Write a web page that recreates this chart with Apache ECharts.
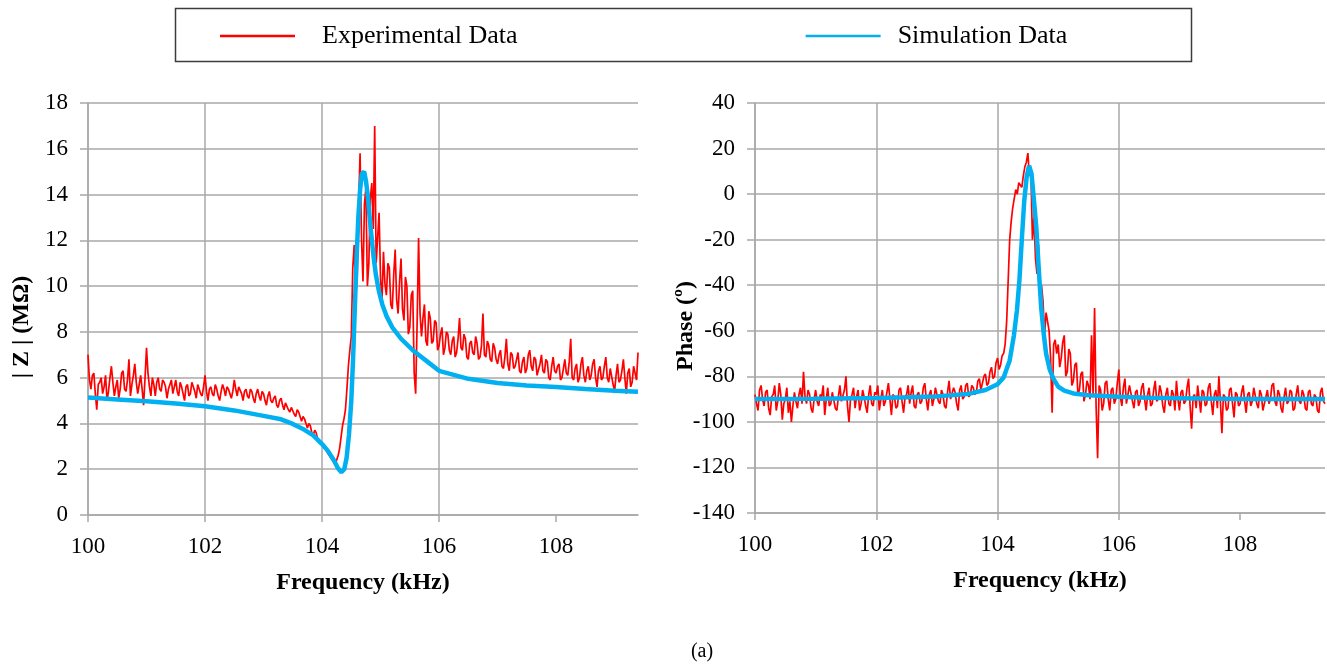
<!DOCTYPE html>
<html><head><meta charset="utf-8">
<script src="https://cdn.jsdelivr.net/npm/echarts@6/dist/echarts.min.js"></script>
<style>html,body{margin:0;padding:0;background:#fff}#c{width:1327px;height:666px}</style>
</head><body><div id="c"></div>
<script>
// ---- data ----
const freqStartKHz = 100;
const freqStepKHz = 0.025;
const xTicks = [100, 102, 104, 106, 108];

// |Z| experimental (MΩ), sampled every 0.025 kHz from 100.000 to 109.400 (one row per kHz)
const zExp = [
  7.0,5.9,5.5,6.1,6.2,5.3,4.6,5.7,5.8,6.0,5.3,5.6,6.1,5.0,5.4,6.0,6.5,5.8,5.2,5.6,5.9,5.1,5.5,6.2,6.3,5.5,5.4,5.9,6.8,5.2,5.7,6.1,6.6,5.8,5.3,5.7,6.1,5.5,4.8,6.0,
  7.3,6.2,5.6,5.2,6.0,5.7,5.2,5.8,6.0,5.5,5.4,5.9,5.8,5.6,5.1,5.5,5.7,5.9,5.3,5.6,5.9,5.4,5.2,5.8,5.6,5.3,5.0,5.6,5.7,5.2,5.3,5.8,5.6,5.4,5.1,5.7,5.5,5.3,5.2,5.6,
  6.1,5.4,5.0,5.5,5.6,5.3,5.2,5.7,5.5,5.2,5.0,5.4,5.7,5.5,5.2,5.6,5.5,5.3,5.1,5.4,5.9,5.5,5.2,5.6,5.6,5.3,5.0,5.4,5.5,5.2,5.1,5.5,5.4,5.1,4.9,5.3,5.5,5.2,5.0,5.4,
  5.3,5.0,4.8,5.2,5.4,5.0,4.9,5.1,5.2,4.8,4.7,5.0,5.1,4.8,4.6,4.9,4.9,4.6,4.5,4.7,4.7,4.4,4.3,4.6,4.5,4.3,4.1,4.3,4.2,4.0,3.8,4.0,3.9,3.6,3.5,3.7,3.6,3.3,3.2,3.2,
  3.1,3.0,2.9,2.8,2.7,2.6,2.5,2.4,2.3,2.2,2.4,2.6,2.9,3.4,3.9,4.2,4.6,5.5,6.5,7.2,7.8,10.8,11.8,9.5,10.4,13.5,15.8,12.0,10.2,13.6,14.3,10.0,11.0,13.8,14.5,12.5,17.0,11.0,12.1,13.2,
  10.3,9.4,11.5,10.1,9.6,11.0,10.8,9.2,9.0,10.5,11.6,9.4,8.8,10.2,11.2,9.0,8.5,10.4,10.0,7.9,8.2,9.6,9.8,6.2,5.3,8.4,12.1,8.8,7.8,8.6,9.2,7.6,7.4,8.9,8.6,7.5,7.6,8.5,8.4,7.2,
  7.4,7.9,8.2,7.0,7.3,8.0,7.9,7.2,7.0,7.6,7.8,6.9,7.1,7.7,8.6,7.3,7.2,7.9,7.7,6.9,6.8,7.5,7.6,7.1,7.0,7.8,7.5,6.8,6.9,7.4,8.8,7.0,6.9,7.6,7.4,6.8,6.7,7.5,7.3,6.8,
  6.6,7.0,7.2,6.5,6.4,6.9,7.7,6.6,6.3,7.1,7.0,6.4,6.5,6.8,7.1,6.3,6.2,6.7,6.9,6.2,6.4,7.0,7.2,6.5,6.3,6.9,6.8,6.1,6.1,6.6,7.0,6.3,6.2,6.8,6.7,6.0,5.9,6.5,6.9,6.3,
  6.2,6.5,6.6,5.9,6.0,6.4,6.8,6.2,6.1,6.7,7.7,6.0,5.9,6.4,6.6,5.8,6.0,6.6,6.9,6.1,5.8,6.3,6.5,5.9,6.1,6.6,6.8,6.0,5.6,6.3,6.5,5.9,6.0,6.5,6.9,6.0,5.8,6.4,6.4,5.7,
  5.4,6.1,6.6,5.8,5.9,6.3,6.8,6.0,5.3,6.2,6.4,5.6,5.8,6.5,6.2,5.9,7.1
];

// Phase experimental (degrees), same sampling
const phaseExp = [
  -88,-92,-95,-86,-84,-90,-93,-87,-86,-94,-97,-89,-88,-84,-95,-91,-83,-88,-99,-92,-90,-85,-96,-91,-100,-93,-87,-91,-94,-88,-85,-92,-78,-89,-92,-86,-88,-94,-96,-90,
  -86,-91,-93,-88,-89,-84,-97,-90,-85,-93,-92,-87,-87,-94,-95,-89,-84,-91,-91,-86,-80,-93,-100,-90,-88,-85,-94,-89,-86,-95,-92,-86,-89,-93,-96,-88,-84,-92,-93,-87,
  -88,-84,-95,-90,-86,-93,-91,-87,-83,-90,-97,-88,-89,-94,-93,-86,-85,-91,-96,-89,-88,-84,-92,-87,-84,-93,-94,-88,-87,-92,-91,-85,-83,-90,-95,-88,-86,-93,-90,-85,
  -85,-91,-92,-86,-88,-93,-94,-87,-82,-90,-90,-85,-87,-92,-95,-86,-84,-90,-89,-84,-83,-89,-88,-84,-85,-88,-87,-82,-81,-86,-86,-80,-79,-84,-83,-78,-76,-81,-80,-74,
  -72,-77,-75,-71,-70,-66,-56,-38,-20,-12,-6,-2,2,0,5,4,3,8,12,14,18,8,10,-20,-10,-28,-35,-22,-48,-40,-47,-62,-52,-56,-60,-72,-96,-66,-64,-70,
  -66,-76,-72,-65,-62,-80,-78,-68,-70,-84,-82,-75,-74,-88,-86,-79,-78,-91,-88,-82,-84,-90,-62,-88,-50,-93,-116,-84,-86,-95,-92,-83,-82,-90,-95,-86,-85,-92,-90,-83,
  -77,-89,-93,-85,-81,-92,-88,-84,-84,-91,-94,-87,-86,-93,-91,-85,-83,-90,-95,-88,-85,-93,-92,-86,-82,-91,-90,-84,-87,-93,-96,-88,-85,-92,-93,-86,-88,-95,-82,-90,
  -95,-87,-86,-92,-91,-85,-81,-93,-103,-89,-88,-94,-84,-90,-96,-86,-87,-93,-92,-85,-83,-91,-97,-88,-86,-94,-80,-91,-105,-88,-89,-95,-94,-86,-85,-92,-98,-87,-88,-93,
  -92,-87,-84,-91,-96,-88,-87,-93,-91,-85,-85,-92,-94,-86,-88,-95,-95,-89,-86,-92,-90,-84,-83,-91,-93,-86,-88,-94,-96,-89,-85,-92,-91,-86,-87,-95,-94,-88,-84,-91,
  -92,-86,-88,-94,-95,-87,-86,-92,-93,-88,-89,-95,-96,-87,-85,-91,-92
];

// Simulation |Z|
const simFreqZ = [100,100.5,101,101.5,102,102.5,103,103.3,103.5,103.7,103.85,104,104.1,104.2,104.27,104.33,104.38,104.42,104.46,104.5,104.53,104.56,104.59,104.62,104.65,104.68,104.72,104.75,104.78,104.81,104.84,104.88,104.92,104.97,105.03,105.1,105.2,105.35,105.55,105.8,106,106.5,107,107.5,108,108.5,109,109.4];
const simZ = [5.13,5.05,4.97,4.87,4.75,4.57,4.33,4.18,3.98,3.72,3.48,3.1,2.8,2.4,2.05,1.87,2.0,2.5,3.5,5.0,6.8,9.0,11.2,13.0,14.2,14.9,15.0,14.6,14.0,13.1,12.3,11.3,10.5,9.8,9.2,8.7,8.2,7.7,7.2,6.7,6.3,5.95,5.77,5.66,5.59,5.5,5.43,5.38];

// Simulation phase
const simFreqP = [100,101,102,102.5,103,103.5,103.8,104,104.1,104.2,104.27,104.32,104.36,104.4,104.44,104.48,104.52,104.56,104.6,104.64,104.68,104.72,104.76,104.8,104.86,104.92,105,105.1,105.25,105.5,106,106.5,107,108,109.4];
const simPhase = [-90,-89.8,-89.5,-89.2,-88.8,-87.8,-86,-83.5,-80.5,-73,-62,-51,-38,-20,-3,7.5,12.5,9,-2.7,-15,-33,-50,-61,-70,-77,-81,-84.5,-86.3,-87.5,-88.3,-89,-89.4,-89.6,-90,-90];

// ---- chart ----
const serif = "'Liberation Serif','Times New Roman',serif";
const gridColor = '#a8a8a8';
function expPairs(vals){ return vals.map((v,i)=>[+(freqStartKHz+i*freqStepKHz).toFixed(3), v]); }
function simPairs(fs, vs){ return fs.map((f,i)=>[f, vs[i]]); }

function xAxis(gi){
  return {
    type:'value', gridIndex:gi, min:100, max:109.4, interval:2,
    name:'Frequency (kHz)', nameLocation:'middle', nameGap:56, nameMoveOverlap:false,
    nameTextStyle:{fontFamily:serif,fontWeight:'bold',fontSize:24,color:'#000'},
    axisLine:{show:true,onZero:false,lineStyle:{color:gridColor,width:1.5}},
    axisTick:{show:true,length:7,customValues:xTicks,lineStyle:{color:gridColor,width:1.5}},
    axisLabel:{fontFamily:serif,fontSize:23,color:'#000',margin:20,customValues:xTicks},
    splitLine:{show:true,showMaxLine:false,lineStyle:{color:gridColor,width:1.5}}
  };
}
function yAxis(gi,min,max,interval,name,gap){
  return {
    type:'value', gridIndex:gi, min, max, interval,
    name, nameLocation:'middle', nameGap:gap, nameRotate:90, nameMoveOverlap:false,
    nameTextStyle:{fontFamily:serif,fontWeight:'bold',fontSize:24,color:'#000',padding:[0,36,0,0]},
    axisLine:{show:true,onZero:false,lineStyle:{color:gridColor,width:1.5}},
    axisTick:{show:true,length:8,lineStyle:{color:gridColor,width:1.5}},
    axisLabel:{fontFamily:serif,fontSize:23,color:'#000',margin:20},
    splitLine:{show:true,lineStyle:{color:gridColor,width:1.5}}
  };
}

const chart = echarts.init(document.getElementById('c'));
chart.setOption({
  animation:false,
  backgroundColor:'#fff',
  grid:[
    {left:88, top:103, width:550, height:412},
    {left:755, top:103, width:570, height:410}
  ],
  xAxis:[xAxis(0), xAxis(1)],
  yAxis:[yAxis(0,0,18,2,'| Z | (MΩ)',54), yAxis(1,-140,40,20,'Phase (º)',57)],
  legend:{
    left:215, top:18, icon:'rect', itemWidth:75, itemHeight:2.5, itemGap:288,
    textStyle:{fontFamily:serif,fontSize:26,color:'#000'},
    data:[
      {name:'Experimental Data', textStyle:{padding:[0,0,0,22]}},
      {name:'Simulation Data', textStyle:{padding:[0,0,0,12]}}
    ]
  },
  graphic:[
    {type:'rect', shape:{x:175.5,y:8.5,width:1016,height:53}, style:{fill:'none',stroke:'#3c3c3c',lineWidth:1.5}, z:-1},
    {type:'text', x:702, y:652, style:{text:'(a)', fontFamily:serif, fontSize:20, fill:'#000', align:'center', verticalAlign:'middle'}}
  ],
  series:[
    {type:'line', name:'Experimental Data', xAxisIndex:0, yAxisIndex:0, data:expPairs(zExp), symbol:'none', lineStyle:{color:'#ff0000',width:1.7}, itemStyle:{color:'#ff0000'}},
    {type:'line', name:'Simulation Data', xAxisIndex:0, yAxisIndex:0, data:simPairs(simFreqZ,simZ), symbol:'none', lineStyle:{color:'#00b0f0',width:4.5}, itemStyle:{color:'#00b0f0'}},
    {type:'line', name:'Experimental Data', xAxisIndex:1, yAxisIndex:1, data:expPairs(phaseExp), symbol:'none', lineStyle:{color:'#ff0000',width:1.7}, itemStyle:{color:'#ff0000'}},
    {type:'line', name:'Simulation Data', xAxisIndex:1, yAxisIndex:1, data:simPairs(simFreqP,simPhase), symbol:'none', lineStyle:{color:'#00b0f0',width:4.5}, itemStyle:{color:'#00b0f0'}}
  ]
});
</script>
</body></html>
